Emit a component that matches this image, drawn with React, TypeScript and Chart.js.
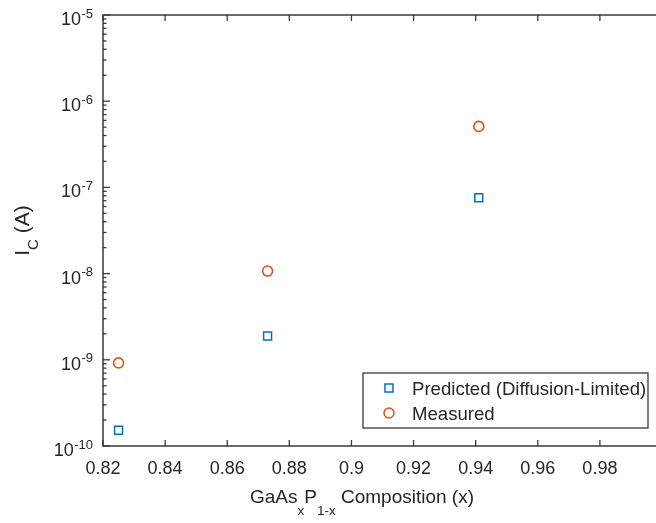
import React, { useEffect, useRef } from "react";
import { Chart, registerables } from "chart.js";

Chart.register(...registerables);

// ---- data ----
const compositionX = [0.825, 0.873, 0.941];
const predictedIc = [1.52e-10, 1.89e-9, 7.6e-8];
const measuredIc = [9.2e-10, 1.07e-8, 5.1e-7];
const seriesNames = ["Predicted (Diffusion-Limited)", "Measured"];
const seriesColors = ["#0072BD", "#D95319"];
const xTickValues = [0.82, 0.84, 0.86, 0.88, 0.9, 0.92, 0.94, 0.96, 0.98, 1.0];
const xTickLabels = ["0.82", "0.84", "0.86", "0.88", "0.9", "0.92", "0.94", "0.96", "0.98", ""];
const yTickExponents = [-10, -9, -8, -7, -6, -5];
const xMin = 0.82;
const xMax = 1.0;
const yMin = 1e-10;
const yMax = 1e-5;

const FONT = "'Liberation Sans', Arial, Helvetica, sans-serif";
const AXIS_COLOR = "#3a3a3a";
const TEXT_COLOR = "#262626";

const CANVAS_W = 700;
const CANVAS_H = 523;

const axesPlugin = {
  id: "matlabAxes",
  afterDraw(chart: any) {
    const ctx: CanvasRenderingContext2D = chart.ctx;
    const { left, right, top, bottom } = chart.chartArea;
    const xs = chart.scales.x;
    const ys = chart.scales.y;
    ctx.save();

    // box
    ctx.strokeStyle = AXIS_COLOR;
    ctx.lineWidth = 1.5;
    ctx.beginPath();
    ctx.moveTo(left, top);
    ctx.lineTo(left, bottom);
    ctx.lineTo(right, bottom);
    ctx.lineTo(right, top);
    ctx.closePath();
    ctx.stroke();

    const seg = (x1: number, y1: number, x2: number, y2: number) => {
      ctx.beginPath();
      ctx.moveTo(x1, y1);
      ctx.lineTo(x2, y2);
      ctx.stroke();
    };

    // x ticks (inward, top and bottom)
    ctx.lineWidth = 1.3;
    xTickValues.forEach((v) => {
      const px = xs.getPixelForValue(v);
      seg(px, bottom, px, bottom - 6);
      seg(px, top, px, top + 6);
    });

    // y ticks, major + minor (left axis)
    const eLast = yTickExponents[yTickExponents.length - 1];
    for (let e = yTickExponents[0]; e <= eLast; e++) {
      for (let m = 1; m <= 9; m++) {
        if (e === eLast && m > 1) break;
        const v = m * Math.pow(10, e);
        const py = ys.getPixelForValue(v);
        const len = m === 1 ? 7 : 3.5;
        seg(left, py, left + len, py);
      }
    }

    // x tick labels
    ctx.fillStyle = TEXT_COLOR;
    ctx.font = `18px ${FONT}`;
    ctx.textAlign = "center";
    ctx.textBaseline = "alphabetic";
    xTickValues.forEach((v, i) => {
      const px = xs.getPixelForValue(v);
      ctx.fillText(xTickLabels[i], px, bottom + 28);
    });

    // y tick labels 10^e
    yTickExponents.forEach((e) => {
      const py = ys.getPixelForValue(Math.pow(10, e));
      const sup = String(e);
      ctx.font = `13px ${FONT}`;
      const supW = ctx.measureText(sup).width;
      const rightEdge = left - 10;
      ctx.textAlign = "left";
      ctx.fillText(sup, rightEdge - supW, py + 2.5);
      ctx.font = `18px ${FONT}`;
      ctx.textAlign = "right";
      ctx.fillText("10", rightEdge - supW - 0.5, py + 10);
    });

    // x axis title with subscripts
    const mainX = `19px ${FONT}`;
    const subX = `13.5px ${FONT}`;
    const parts: [string, boolean][] = [
      ["GaAs", false],
      ["x", true],
      ["P", false],
      ["1-x", true],
      [" Composition (x)", false],
    ];
    let total = 0;
    const widths = parts.map(([t, s]) => {
      ctx.font = s ? subX : mainX;
      const w = ctx.measureText(t).width;
      total += w;
      return w;
    });
    let cx = 250;
    ctx.textAlign = "left";
    parts.forEach(([t, s], i) => {
      ctx.font = s ? subX : mainX;
      ctx.fillText(t, cx, s ? 515 : 503);
      cx += widths[i];
    });

    // y axis title  I_C (A)
    const mainY = `21px ${FONT}`;
    const subY = `15px ${FONT}`;
    const yparts: [string, boolean][] = [
      ["I", false],
      ["C", true],
      [" (A)", false],
    ];
    let ytotal = 0;
    const ywidths = yparts.map(([t, s]) => {
      ctx.font = s ? subY : mainY;
      const w = ctx.measureText(t).width;
      ytotal += w;
      return w;
    });
    ctx.save();
    ctx.translate(29, (top + bottom) / 2);
    ctx.rotate(-Math.PI / 2);
    let ty = -ytotal / 2;
    yparts.forEach(([t, s], i) => {
      ctx.font = s ? subY : mainY;
      ctx.fillText(t, ty, s ? 9 : 0);
      ty += ywidths[i];
    });
    ctx.restore();

    // legend
    const lx = 363, lyTop = 373, lw = 285, lh = 55;
    ctx.fillStyle = "#ffffff";
    ctx.fillRect(lx, lyTop, lw, lh);
    ctx.strokeStyle = AXIS_COLOR;
    ctx.lineWidth = 1.3;
    ctx.strokeRect(lx, lyTop, lw, lh);
    const rows = [388, 413];
    ctx.font = `18.6px ${FONT}`;
    ctx.textAlign = "left";
    seriesNames.forEach((name, i) => {
      const ry = rows[i];
      ctx.strokeStyle = seriesColors[i];
      ctx.lineWidth = 1.5;
      if (i === 0) {
        ctx.strokeRect(389 - 4, ry - 4, 8, 8);
      } else {
        ctx.beginPath();
        ctx.arc(389, ry, 5, 0, Math.PI * 2);
        ctx.stroke();
      }
      ctx.fillStyle = TEXT_COLOR;
      ctx.fillText(name, 412, ry + 6.5);
    });

    ctx.restore();
  },
};

export default function App() {
  const ref = useRef<HTMLCanvasElement | null>(null);

  useEffect(() => {
    if (!ref.current) return;
    const chart = new Chart(ref.current, {
      type: "scatter",
      data: {
        datasets: [
          {
            label: seriesNames[0],
            data: compositionX.map((x, i) => ({ x, y: predictedIc[i] })),
            pointStyle: "rect",
            pointRadius: 5.6,
            pointBorderWidth: 1.5,
            borderColor: seriesColors[0],
            backgroundColor: "rgba(0,0,0,0)",
            showLine: false,
          },
          {
            label: seriesNames[1],
            data: compositionX.map((x, i) => ({ x, y: measuredIc[i] })),
            pointStyle: "circle",
            pointRadius: 5,
            pointBorderWidth: 1.6,
            borderColor: seriesColors[1],
            backgroundColor: "rgba(0,0,0,0)",
            showLine: false,
          },
        ],
      },
      options: {
        responsive: false,
        animation: false,
        devicePixelRatio: 1,
        layout: { padding: { left: 103, top: 15, right: CANVAS_W - 662, bottom: CANVAS_H - 446 } },
        plugins: { legend: { display: false }, tooltip: { enabled: false } },
        scales: {
          x: { type: "linear", min: xMin, max: xMax, display: false },
          y: { type: "logarithmic", min: yMin, max: yMax, display: false },
        },
      },
      plugins: [axesPlugin],
    });
    return () => chart.destroy();
  }, []);

  return (
    <div
      style={{
        position: "absolute",
        left: 0,
        top: 0,
        width: 656,
        height: 523,
        overflow: "hidden",
        background: "#ffffff",
      }}
    >
      <canvas ref={ref} width={CANVAS_W} height={CANVAS_H} style={{ width: CANVAS_W, height: CANVAS_H, display: "block" }} />
    </div>
  );
}
